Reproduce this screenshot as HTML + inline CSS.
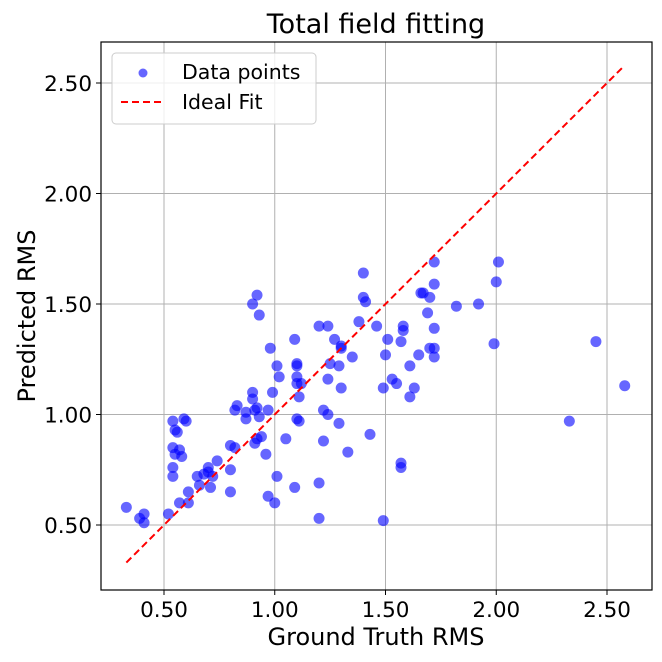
<!DOCTYPE html>
<html><head><meta charset="utf-8"><style>
html,body{margin:0;padding:0;background:#fff;width:662px;height:662px;overflow:hidden}
svg{font-family:"DejaVu Sans","Liberation Sans",sans-serif}
</style></head><body>
<svg id="chart" width="662" height="662" xmlns="http://www.w3.org/2000/svg"></svg>
<script>
const xTicks=[0.5,1.0,1.5,2.0,2.5];
const yTicks=[0.5,1.0,1.5,2.0,2.5];
const tickLabels=["0.50","1.00","1.50","2.00","2.50"];
const truthRms=[0.98,1.09,1.01,1.02,1.10,1.10,0.99,0.90,0.90,0.83,0.82,0.87,0.91,0.92,0.97,0.87,0.93,1.10,0.54,0.59,0.60,0.55,0.56,0.94,0.92,1.05,0.80,0.82,0.91,0.54,0.57,0.55,0.58,0.96,0.74,0.70,0.80,0.54,0.54,0.65,0.68,0.70,0.72,0.66,0.71,0.80,0.61,1.01,1.09,0.97,1.00,0.57,0.61,0.33,0.52,0.41,0.39,0.41,1.40,0.92,0.90,0.93,1.40,1.41,1.20,1.24,1.38,1.46,1.58,1.58,1.57,1.51,1.27,1.30,1.30,1.35,1.50,1.10,1.25,1.29,1.10,1.12,1.11,1.24,1.30,1.49,1.53,1.55,1.61,1.65,1.67,1.69,1.63,1.61,1.22,1.24,1.11,1.29,1.43,1.22,1.33,1.57,1.57,1.20,1.20,1.49,2.01,2.00,1.72,1.72,1.66,1.70,1.82,1.92,1.72,1.70,1.72,1.72,1.99,2.33,2.45,2.58];
const predRms=[1.30,1.34,1.22,1.17,1.22,1.14,1.10,1.10,1.07,1.04,1.02,1.01,1.02,1.03,1.02,0.98,0.99,0.98,0.97,0.98,0.97,0.93,0.92,0.90,0.89,0.89,0.86,0.85,0.87,0.85,0.84,0.82,0.81,0.82,0.79,0.76,0.75,0.76,0.72,0.72,0.73,0.74,0.72,0.68,0.67,0.65,0.65,0.72,0.67,0.63,0.60,0.60,0.60,0.58,0.55,0.55,0.53,0.51,1.64,1.54,1.50,1.45,1.53,1.51,1.40,1.40,1.42,1.40,1.40,1.38,1.33,1.34,1.34,1.31,1.30,1.26,1.27,1.23,1.23,1.22,1.17,1.14,1.08,1.16,1.12,1.12,1.16,1.14,1.22,1.27,1.55,1.46,1.12,1.08,1.02,1.00,0.97,0.96,0.91,0.88,0.83,0.78,0.76,0.69,0.53,0.52,1.69,1.60,1.69,1.59,1.55,1.53,1.49,1.50,1.39,1.30,1.30,1.26,1.32,0.97,1.33,1.13];

const NS="http://www.w3.org/2000/svg";
const svg=document.getElementById('chart');
const L=101,R=652,T=42,B=590;
const sx=v=>164+(v-0.5)*221.5;
const sy=v=>525-(v-0.5)*221;
function mk(tag,attrs,parent){const e=document.createElementNS(NS,tag);for(const k in attrs)e.setAttribute(k,attrs[k]);(parent||svg).appendChild(e);return e;}

const grid=mk('g',{});


xTicks.forEach((v,i)=>{
  const l=mk('line',{x1:sx(v),x2:sx(v),y1:T,y2:B,stroke:'#b0b0b0','stroke-width':1},grid);
  
  
  const t=mk('line',{x1:sx(v),x2:sx(v),y1:B,y2:B+5,stroke:'#000'});
  
  
  const tx=mk('text',{x:sx(v),y:617,'text-anchor':'middle','font-size':21.5});
  tx.textContent=tickLabels[i];
  
  
});
yTicks.forEach((v,i)=>{
  const l=mk('line',{x1:L,x2:R,y1:sy(v),y2:sy(v),stroke:'#b0b0b0','stroke-width':1},grid);
  
  
  const t=mk('line',{x1:L-5,x2:L,y1:sy(v),y2:sy(v),stroke:'#000'});
  
  
  const tx=mk('text',{x:L-9,y:sy(v)+8,'text-anchor':'end','font-size':21.5});
  tx.textContent=tickLabels[i];
  
  
});

const pts=mk('g',{});


truthRms.forEach((v,i)=>{
  const c=mk('circle',{cx:sx(v),cy:sy(predRms[i]),r:5.5,fill:'rgba(0,0,255,0.6)'},pts);
  
  
});

const mn=Math.min(...truthRms),mxv=Math.max(...truthRms);
const fit=mk('line',{x1:sx(mn),y1:sy(mn),x2:sx(mxv),y2:sy(mxv),stroke:'#ff0000','stroke-width':2,'stroke-dasharray':'7,4'});



const frame=mk('rect',{x:L,y:T,width:R-L,height:B-T,fill:'none',stroke:'#000','stroke-width':1.2});



const lg=mk('g',{});


mk('rect',{x:112,y:53,width:204,height:71,rx:4,fill:'rgba(255,255,255,0.8)',stroke:'#cccccc'},lg);
const lm=mk('circle',{cx:143,cy:73,r:4.5,fill:'rgba(0,0,255,0.6)'},lg);


const lt1=mk('text',{x:182,y:79,'font-size':20.5},lg);lt1.textContent='Data points';


const ll=mk('line',{x1:121,x2:165,y1:102,y2:102,stroke:'#ff0000','stroke-width':2,'stroke-dasharray':'7,4'},lg);


const lt2=mk('text',{x:182,y:109,'font-size':20.5},lg);lt2.textContent='Ideal Fit';



const title=mk('text',{x:376,y:33,'text-anchor':'middle','font-size':27});title.textContent='Total field fitting';


const xl=mk('text',{x:376,y:645,'text-anchor':'middle','font-size':24});xl.textContent='Ground Truth RMS';


const yl=mk('text',{x:0,y:0,'text-anchor':'middle','font-size':24,transform:'translate(35,316) rotate(-90)'});yl.textContent='Predicted RMS';


</script>
</body></html>
